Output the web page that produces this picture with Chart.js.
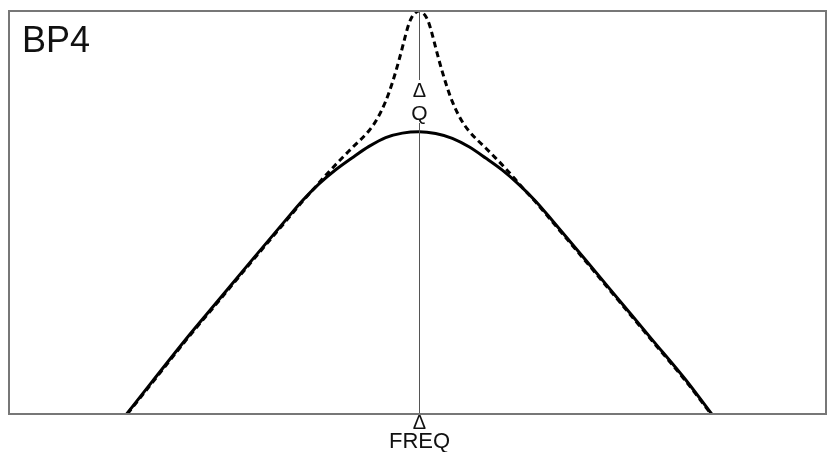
<!DOCTYPE html>
<html>
<head>
<meta charset="utf-8">
<title>BP4</title>
<script src="https://cdn.jsdelivr.net/npm/chart.js@4/dist/chart.umd.min.js"></script>
<style>
  html, body { margin: 0; padding: 0; background: #fff; }
  #wrap { width: 828px; height: 452px; position: relative; }
</style>
</head>
<body>
<div id="wrap"><canvas id="chartBp4"></canvas></div>
<script>
// frequency offset from the centre (arbitrary log units), response level (0 = floor, 100 = top)
const solidFreq = [-8.77, -8, -7, -6, -5, -4, -3.5, -3, -2.5, -2, -1.5, -1, -0.5, 0,
  0.5, 1, 1.5, 2, 2.5, 3, 3.5, 4, 5, 6, 7, 8, 8.78];
const solidLevel = [0, 8.1, 18.5, 28.4, 38.3, 48.1, 52.9, 57.1, 60.6, 63.6, 66.4, 68.6, 69.7, 70.05,
  69.6, 68.4, 66.3, 63.5, 60.5, 56.9, 52.8, 48.0, 38.2, 28.3, 18.4, 8.5, 0];

const dashedFreq = [-8.75, -8, -7, -6, -5, -4, -3.5, -3.1, -2.9, -2.6, -2.3, -2, -1.5, -1.25, -1,
  -0.8, -0.6, -0.5, -0.4, -0.3, -0.2, -0.1, 0, 0.1, 0.2, 0.3, 0.4, 0.5, 0.6, 0.8,
  1, 1.25, 1.5, 2, 2.3, 2.6, 2.9, 3.1, 3.5, 4, 5, 6, 7, 8, 8.76];
const dashedLevel = [0, 7.8, 18.2, 28.1, 38.0, 47.8, 52.7, 56.4, 58.3, 61.0, 63.6, 66.1, 70.3, 73.3, 77.6,
  82.2, 87.8, 90.9, 94.1, 96.9, 98.7, 99.6, 100, 99.6, 98.7, 96.9, 94.1, 90.9, 87.8, 82.2,
  77.5, 73.2, 70.2, 66.0, 63.5, 60.9, 58.1, 56.2, 52.6, 47.7, 37.9, 28.0, 18.1, 8.2, 0];

const freqRange = [-12.3, 12.21];
const levelRange = [0, 100];
const markerFreq = 0;

const titleText = 'BP4';
const qLabel = ['\u0394', 'Q'];
const freqLabel = ['\u0394', 'FREQ'];

function toPoints(xs, ys) {
  return xs.map((x, i) => ({ x, y: ys[i] }));
}

const overlayPlugin = {
  id: 'bp4Overlay',
  afterDatasetsDraw(chart) {
    const { ctx, chartArea } = chart;
    const cx = Math.round(chart.scales.x.getPixelForValue(markerFreq)) + 0.5;

    ctx.save();

    // centre marker line, broken around the Q label
    ctx.strokeStyle = '#555';
    ctx.lineWidth = 1;
    ctx.beginPath();
    ctx.moveTo(cx, chartArea.top);
    ctx.lineTo(cx, 80);
    ctx.moveTo(cx, 123);
    ctx.lineTo(cx, chartArea.bottom);
    ctx.stroke();

    // frame
    ctx.strokeStyle = '#777';
    ctx.lineWidth = 2;
    ctx.strokeRect(chartArea.left, chartArea.top, chartArea.right - chartArea.left, chartArea.bottom - chartArea.top);

    ctx.fillStyle = '#111';
    ctx.textBaseline = 'alphabetic';

    ctx.textAlign = 'left';
    ctx.font = '36px "Liberation Sans", Arial, sans-serif';
    ctx.fillText(titleText, 22, 52);

    ctx.textAlign = 'center';
    ctx.font = '20px "Liberation Sans", Arial, sans-serif';
    ctx.fillText(qLabel[0], cx, 97);
    ctx.fillText(freqLabel[0], cx, 429);

    ctx.font = '21px "Liberation Sans", Arial, sans-serif';
    ctx.fillText(qLabel[1], cx, 120);
    ctx.font = '22px "Liberation Sans", Arial, sans-serif';
    ctx.fillText(freqLabel[1], cx, 448);

    ctx.restore();
  }
};

new Chart(document.getElementById('chartBp4').getContext('2d'), {
  type: 'scatter',
  data: {
    datasets: [{
      label: 'BP4',
      data: toPoints(solidFreq, solidLevel),
      showLine: true,
      borderColor: '#000',
      borderWidth: 3,
      pointRadius: 0,
      cubicInterpolationMode: 'monotone',
      order: 0
    }, {
      label: 'BP4 high Q',
      data: toPoints(dashedFreq, dashedLevel),
      showLine: true,
      borderColor: '#000',
      borderWidth: 3,
      borderDash: [6, 4],
      pointRadius: 0,
      cubicInterpolationMode: 'monotone',
      order: 1
    }]
  },
  options: {
    responsive: true,
    maintainAspectRatio: false,
    animation: false,
    events: [],
    layout: { padding: { left: 9, top: 11, right: 2, bottom: 38 } },
    plugins: { legend: { display: false }, tooltip: { enabled: false } },
    scales: {
      x: { type: 'linear', display: false, min: freqRange[0], max: freqRange[1] },
      y: { type: 'linear', display: false, min: levelRange[0], max: levelRange[1] }
    }
  },
  plugins: [overlayPlugin]
});
</script>
</body>
</html>
